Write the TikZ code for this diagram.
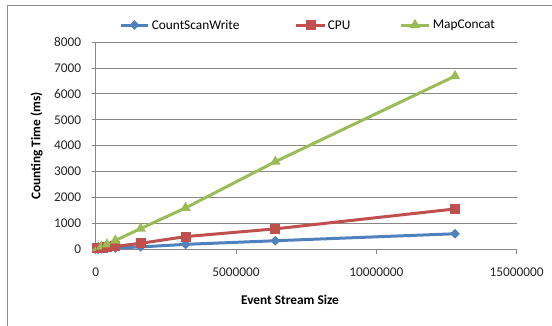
\documentclass[tikz,border=0pt]{standalone}
\usepackage{fontspec}
\setmainfont{Carlito}
\usetikzlibrary{shapes.geometric}
\definecolor{cswblue}{HTML}{4F81BD}
\definecolor{cpured}{HTML}{C0504D}
\definecolor{mapgreen}{HTML}{9BBB59}
\definecolor{gridgray}{HTML}{878787}
\definecolor{framegray}{HTML}{8C8C8C}
\begin{document}
\begin{tikzpicture}[
	x=0.75pt, y=-0.75pt,
	font=\fontsize{10}{12}\selectfont,
	grid/.style={draw=gridgray, line width=0.75pt},
	series/.style={line width=2.25pt, line join=round},
	diam/.style={diamond, fill=cswblue, inner sep=0pt, minimum width=7.5pt, minimum height=7.5pt},
	sq/.style={rectangle, fill=cpured, inner sep=0pt, minimum size=7.5pt},
	tri/.style={regular polygon, regular polygon sides=3, fill=mapgreen, inner sep=0pt, minimum size=9.2pt},
	ticklabel/.style={inner sep=0pt, text=black!85}
	]
	
	\useasboundingbox (0,0) rectangle (552,325);
	
	% Chart frame
	\draw[framegray, line width=0.75pt] (7,330) -- (7,5) -- (560,5);
	
	% Plot area (x in millions, y in thousands of ms)
	\begin{scope}[shift={(95.7,249)}, x=21.05pt, y=19.38pt]
		
		% Gridlines and y ticks
		\foreach \y in {1,...,8}
			\draw[grid] (0,\y) -- (15,\y);
		\foreach \y/\lab in {0/0,1/1000,2/2000,3/3000,4/4000,5/5000,6/6000,7/7000,8/8000} {
			\draw[grid] (-3pt,\y) -- (0,\y);
			\node[ticklabel, anchor=east] (yl\y) at (-10.8pt,\y) {\lab};
		}
		
		% Axes
		\draw[grid] (0,8) -- (0,0) -- (15,0);
		\foreach \x/\lab in {0/0,5/5000000,10/10000000,15/15000000} {
			\draw[grid] (\x,0) -- (\x,-3.75pt);
			\node[ticklabel] (xl\x) at (\x,-17.5pt) {\lab};
		}
		
		% Data points
		\foreach \x/\y [count=\i] in {0.05/0.003,0.1/0.005,0.2/0.01,0.4/0.02,0.7/0.04,1.6/0.08,3.2/0.18,6.4/0.32,12.8/0.59}
			\coordinate (csw\i) at (\x,\y);
		\foreach \x/\y [count=\i] in {0.05/0.03,0.1/0.03,0.2/0.04,0.4/0.06,0.7/0.10,1.6/0.22,3.2/0.48,6.4/0.78,12.8/1.55}
			\coordinate (cpu\i) at (\x,\y);
		\foreach \x/\y [count=\i] in {0.05/0.03,0.1/0.05,0.2/0.09,0.4/0.18,0.7/0.33,1.6/0.79,3.2/1.59,6.4/3.38,12.8/6.69}
			\coordinate (map\i) at (\x,\y);
		
		% Series lines
		\draw[series, cswblue] (csw1) \foreach \i in {2,...,9} { -- (csw\i) };
		\draw[series, cpured] (cpu1) \foreach \i in {2,...,9} { -- (cpu\i) };
		\draw[series, mapgreen] (map1) \foreach \i in {2,...,9} { -- (map\i) };
		
		% Markers
		\foreach \i in {1,...,9} {
			\node[diam] (cswm\i) at (csw\i) {};
			\node[sq] (cpum\i) at (cpu\i) {};
			\node[tri] (mapm\i) at (map\i) {};
		}
	\end{scope}
	
	% Legend
	\coordinate (lg1a) at (121,25);
	\coordinate (lg1b) at (148,25);
	\draw[series, cswblue] (lg1a) -- (lg1b);
	\node[diam] (lgm1) at (134.5,25) {};
	\node[anchor=west, inner sep=0pt] (lgt1) at (151.5,25) {CountScanWrite};
	
	\coordinate (lg2a) at (296,25);
	\coordinate (lg2b) at (325,25);
	\draw[series, cpured] (lg2a) -- (lg2b);
	\node[sq] (lgm2) at (310.5,25) {};
	\node[anchor=west, inner sep=0pt] (lgt2) at (327.5,25) {CPU};
	
	\coordinate (lg3a) at (401,25);
	\coordinate (lg3b) at (429,25);
	\draw[series, mapgreen] (lg3a) -- (lg3b);
	\node[tri] (lgm3) at (415,25) {};
	\node[anchor=west, inner sep=0pt] (lgt3) at (432.5,25) {MapConcat};
	
	% Axis titles
	\node[rotate=90, font=\fontsize{10}{12}\selectfont\bfseries] (ytitle) at (36.5,146) {Counting Time (ms)};
	\node[font=\fontsize{10}{12}\selectfont\bfseries] (xtitle) at (290,300) {Event Stream Size};
	
\end{tikzpicture}
\end{document}
